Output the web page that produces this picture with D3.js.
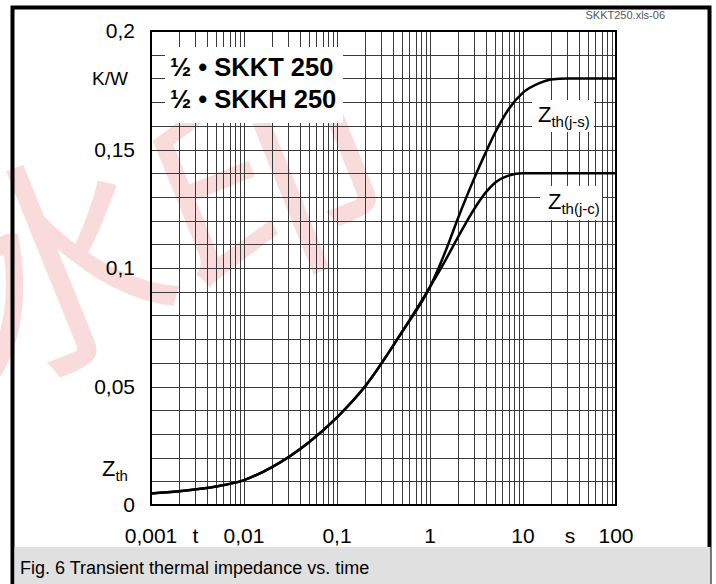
<!DOCTYPE html>
<html>
<head>
<meta charset="utf-8">
<script src="https://cdn.jsdelivr.net/npm/d3@7.9.0/dist/d3.min.js"></script>
<style>
  body { margin: 0; background: #fff; }
  svg { display: block; font-family: "Liberation Sans", Arial, sans-serif; }
</style>
</head>
<body>
<svg id="chart" width="716" height="584"></svg>
<script>
// time values (s) where the curves were read
const times = [0.001, 0.002, 0.005, 0.01, 0.02, 0.05, 0.1, 0.2, 0.5, 1, 1.5, 2, 3, 4, 5, 7, 10, 15, 20, 30, 100];
// Zth(j-s) in K/W
const zthJS = [0.0049, 0.0058, 0.0078, 0.0105, 0.016, 0.0265, 0.037, 0.050, 0.073, 0.092, 0.108, 0.121, 0.138, 0.149, 0.157, 0.167, 0.174, 0.178, 0.1795, 0.180, 0.180];
// Zth(j-c) in K/W
const zthJC = [0.0049, 0.0058, 0.0078, 0.0105, 0.016, 0.0265, 0.037, 0.050, 0.073, 0.092, 0.104, 0.113, 0.125, 0.132, 0.136, 0.139, 0.140, 0.140, 0.140, 0.140, 0.140];

const xTickValues = [0.001, 0.01, 0.1, 1, 10, 100];
const xTickLabels = ["0,001", "0,01", "0,1", "1", "10", "100"];
const yTickValues = [0, 0.05, 0.1, 0.15, 0.2];
const yTickLabels = ["0", "0,05", "0,1", "0,15", "0,2"];
const titleLines = ["\u00bd \u2022 SKKT 250", "\u00bd \u2022 SKKH 250"];
const caption = "Fig. 6 Transient thermal impedance vs. time";

const svg = d3.select("#chart");
const plotL = 151, plotR = 616, plotT = 31, plotB = 505;

const x = d3.scaleLog().domain([0.001, 100]).range([plotL, plotR]);
const y = d3.scaleLinear().domain([0, 0.2]).range([plotB, plotT]);

// watermark
svg.append("text")
  .attr("transform", "translate(-20,390) rotate(-22)")
  .attr("font-size", 230)
  .attr("fill", "#f4a8a8")
  .attr("opacity", 0.4)
  .attr("font-family", "Noto Sans CJK SC")
  .text("水印");

// grid
const vLines = [];
for (let e = -3; e < 2; e++) for (let k = 1; k < 10; k++) vLines.push(k * Math.pow(10, e));
vLines.push(100);
const hLines = d3.range(0, 0.2001, 0.01);

const grid = svg.append("g").attr("stroke", "#3a3a3a").attr("stroke-width", 1);
grid.selectAll("line.v").data(vLines).join("line")
  .attr("x1", d => Math.round(x(d)) + 0.5).attr("x2", d => Math.round(x(d)) + 0.5)
  .attr("y1", plotT).attr("y2", plotB);
grid.selectAll("line.h").data(hLines).join("line")
  .attr("x1", plotL).attr("x2", plotR)
  .attr("y1", d => Math.round(y(d)) + 0.5).attr("y2", d => Math.round(y(d)) + 0.5);

// white boxes behind labels
svg.append("rect").attr("x", 165).attr("y", 47).attr("width", 178).attr("height", 76).attr("fill", "#fff");
svg.append("rect").attr("x", 532).attr("y", 100).attr("width", 62).attr("height", 32).attr("fill", "#fff");
svg.append("rect").attr("x", 540).attr("y", 186).attr("width", 62).attr("height", 34).attr("fill", "#fff");

// frame
svg.append("rect").attr("x", plotL).attr("y", plotT).attr("width", plotR - plotL).attr("height", plotB - plotT)
  .attr("fill", "none").attr("stroke", "#000").attr("stroke-width", 2);

// curves
const line = d3.line().x((d, i) => x(times[i])).y(d => y(d)).curve(d3.curveMonotoneX);
[zthJS, zthJC].forEach(s => {
  svg.append("path").attr("d", line(s)).attr("fill", "none")
    .attr("stroke", "#000").attr("stroke-width", 2.5);
});

// title
svg.selectAll("text.title").data(titleLines).join("text")
  .attr("x", 170).attr("y", (d, i) => 76 + i * 32)
  .attr("font-size", 25.5).attr("font-weight", "bold").attr("fill", "#000")
  .text(d => d);

// curve labels
function zLabel(px, py, sub) {
  const t = svg.append("text").attr("x", px).attr("y", py).attr("fill", "#000");
  t.append("tspan").attr("font-size", 22).text("Z");
  t.append("tspan").attr("font-size", 15).attr("dy", 5).text(sub);
}
zLabel(538, 122, "th(j-s)");
zLabel(548, 209, "th(j-c)");

// y labels
svg.selectAll("text.yl").data(yTickValues).join("text")
  .attr("x", 135).attr("y", d => y(d) + 7)
  .attr("text-anchor", "end").attr("font-size", 21).text((d, i) => yTickLabels[i]);
svg.append("text").attr("x", 128).attr("y", y(0.18) + 7).attr("text-anchor", "end")
  .attr("font-size", 19).text("K/W");
zLabel(102, y(0.015) + 7, "th");

// x labels
svg.selectAll("text.xl").data(xTickValues).join("text")
  .attr("x", d => x(d)).attr("y", 543)
  .attr("text-anchor", "middle").attr("font-size", 21).text((d, i) => xTickLabels[i]);
svg.append("text").attr("x", x(0.003)).attr("y", 543).attr("text-anchor", "middle").attr("font-size", 21).text("t");
svg.append("text").attr("x", x(32)).attr("y", 543).attr("text-anchor", "middle").attr("font-size", 21).text("s");

// file id
svg.append("text").attr("x", 665).attr("y", 19).attr("text-anchor", "end")
  .attr("font-size", 11).attr("fill", "#555").text("SKKT250.xls-06");

// outer border
svg.append("rect").attr("x", 12.5).attr("y", 7.5).attr("width", 697).attr("height", 600)
  .attr("fill", "none").attr("stroke", "#000").attr("stroke-width", 4);

// caption band
svg.append("rect").attr("x", 14.5).attr("y", 547).attr("width", 696).attr("height", 37).attr("fill", "#e0e0e0");
svg.append("text").attr("x", 20).attr("y", 574).attr("font-size", 18).attr("fill", "#000").text(caption);
</script>
</body>
</html>
